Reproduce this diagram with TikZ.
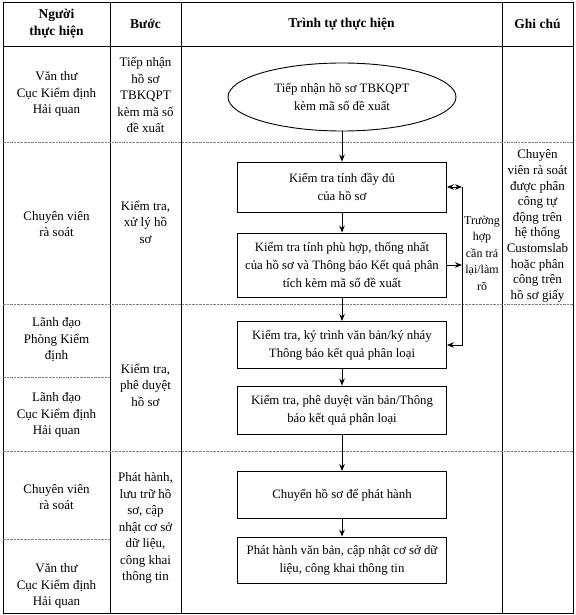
\documentclass[tikz,border=0pt]{standalone}
\usepackage{fontspec}
\setmainfont{Liberation Serif}
\usetikzlibrary{arrows.meta,positioning,shapes.geometric}
\tikzset{
  head/.style={font=\bfseries\fontsize{13.5}{17}\selectfont,align=center},
  body/.style={font=\fontsize{13}{16.5}\selectfont,align=center},
  note/.style={font=\fontsize{13}{15.6}\selectfont,align=center},
  small/.style={font=\fontsize{12}{16.5}\selectfont,align=center},
  stepbox/.style={draw,line width=0.9pt,minimum width=209pt,inner xsep=2pt,font=\fontsize{12.8}{18}\selectfont,align=center},
  oval/.style={ellipse,draw,line width=0.9pt,minimum width=228pt,minimum height=68pt,inner sep=0pt,font=\fontsize{12.8}{18}\selectfont,align=center},
  colline/.style={line width=0.9pt},
  rowline/.style={gray,line width=0.7pt,dash pattern=on 2.5pt off 1pt},
  arr/.style={-{Stealth[length=7pt,width=5.5pt]},line width=0.9pt},
  arrboth/.style={{Stealth[length=7pt,width=5.5pt]}-{Stealth[length=7pt,width=5.5pt]},line width=0.9pt}
}
\begin{document}
\begin{tikzpicture}[x=1pt,y=-1pt]
\path[use as bounding box] (0,0) rectangle (575,615);
% khung bang
\draw[colline] (3,2) rectangle (573,613);
\foreach \x in {110,181,502} \draw[colline] (\x,2) -- (\x,613);
\draw[colline] (3,46) -- (573,46);
\foreach \y in {142,304,451} \draw[rowline] (3,\y) -- (573,\y);
\foreach \y in {377,539} \draw[rowline] (3,\y) -- (110,\y);
% tieu de
\node[head] (hPerson) at (56.5,24) {Người\\thực hiện};
\node[head] (hStep) at (145.5,24) {Bước};
\node[head] (hFlow) at (341.5,24) {Trình tự thực hiện};
\node[head] (hNote) at (537.5,24) {Ghi chú};
% nguoi thuc hien
\foreach \nm/\y/\lab in {pA/94/{Văn thư\\Cục Kiểm định\\Hải quan},pB/224/{Chuyên viên\\rà soát},pC/340/{Lãnh đạo\\Phòng Kiểm\\định},pD/415/{Lãnh đạo\\Cục Kiểm định\\Hải quan},pE/497/{Chuyên viên\\rà soát},pF/586/{Văn thư\\Cục Kiểm định\\Hải quan}}
 \node[body] (\nm) at (56.5,\y) {\lab};
% buoc
\foreach \nm/\y/\lab in {sA/95/{Tiếp nhận\\hồ sơ\\TBKQPT\\kèm mã số\\đề xuất},sB/222/{Kiểm tra,\\xử lý hồ\\sơ},sC/385/{Kiểm tra,\\phê duyệt\\hồ sơ},sD/528/{Phát hành,\\lưu trữ hồ\\sơ, cập\\nhật cơ sở\\dữ liệu,\\công khai\\thông tin}}
 \node[body] (\nm) at (145.5,\y) {\lab};
% trinh tu
\node[oval] (start) at (342,97) {Tiếp nhận hồ sơ TBKQPT\\kèm mã số đề xuất};
\node[stepbox,minimum height=50pt] (b1) at (342,187) {Kiểm tra tính đầy đủ\\của hồ sơ};
\node[stepbox,minimum height=64pt] (b2) at (342,265) {Kiểm tra tính phù hợp, thống nhất\\của hồ sơ và Thông báo Kết quả phân\\tích kèm mã số đề xuất};
\node[stepbox,minimum height=47pt] (b3) at (342,345) {Kiểm tra, ký trình văn bản/ký nháy\\Thông báo kết quả phân loại};
\node[stepbox,minimum height=48pt] (b4) at (342,410) {Kiểm tra, phê duyệt văn bản/Thông\\báo kết quả phân loại};
\node[stepbox,minimum height=47pt] (b5) at (342,495) {Chuyển hồ sơ để phát hành};
\node[stepbox,minimum height=46pt] (b6) at (342,560) {Phát hành văn bản, cập nhật cơ sở dữ\\liệu, công khai thông tin};
\node[small] (back) at (482,253) {Trường\\hợp\\cần trả\\lại/làm\\rõ};
\coordinate (loopX) at (462,0);
\draw[arr] (start) -- (b1);
\draw[arr] (b1) -- (b2);
\draw[arr] (b2) -- (b3);
\draw[arr] (b3) -- (b4);
\draw[arr] (b4) -- (b5);
\draw[arr] (b5) -- (b6);
\draw[arr] (b2.east) -- (b2.east -| loopX);
\draw[arrboth] (b1.east) -- (b1.east -| loopX);
\draw[arr] (b1.east -| loopX) -- (b3.east -| loopX) -- (b3.east);
% ghi chu
\node[note] (nB) at (537.5,226) {Chuyên\\viên rà soát\\được phân\\công tự\\động trên\\hệ thống\\Customslab\\hoặc phân\\công trên\\hồ sơ giấy};
\end{tikzpicture}
\end{document}
